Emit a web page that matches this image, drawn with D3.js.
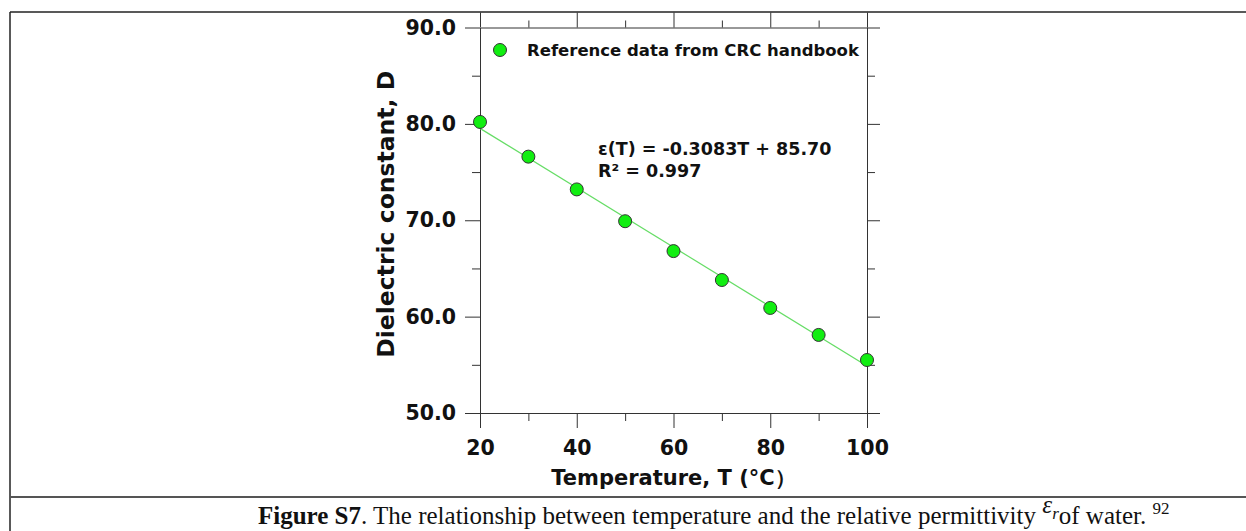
<!DOCTYPE html>
<html>
<head>
<meta charset="utf-8">
<script src="https://cdn.jsdelivr.net/npm/d3@7"></script>
<style>
  body { margin: 0; background: #fff; }
  svg { display: block; }
  .tk text { font-family: "DejaVu Sans", sans-serif; font-weight: bold; font-size: 20.5px; fill: #111; }
</style>
</head>
<body>
<div id="chart"></div>
<script>
// data (CRC handbook values)
const temps = [20, 30, 40, 50, 60, 70, 80, 90, 100];
const dielectric = [80.2, 76.6, 73.2, 69.9, 66.8, 63.8, 60.9, 58.1, 55.5];
const xMajor = [20, 40, 60, 80, 100];
const xMinor = [30, 50, 70, 90];
const yMajor = [50, 60, 70, 80, 90];
const yMinor = [55, 65, 75, 85];
const fitSlope = -0.3083, fitIntercept = 85.70;

const W = 1246, H = 531;
const plot = { left: 480, right: 867, top: 27.5, bottom: 413 };

const svg = d3.select("#chart")
    .append("svg")
    .attr("width", W)
    .attr("height", H);

// frame of the figure cell
svg.append("line").attr("x1", 10).attr("x2", W).attr("y1", 12).attr("y2", 12)
    .attr("stroke", "#222").attr("stroke-width", 1.5);
svg.append("line").attr("x1", 10).attr("x2", 10).attr("y1", 12).attr("y2", H)
    .attr("stroke", "#222").attr("stroke-width", 1.5);
svg.append("line").attr("x1", 10).attr("x2", W).attr("y1", 497).attr("y2", 497)
    .attr("stroke", "#555").attr("stroke-width", 2);

const x = d3.scaleLinear().domain([20, 100]).range([plot.left, plot.right]);
const y = d3.scaleLinear().domain([50, 90]).range([plot.bottom, plot.top]);

function axisGroup(axis, tx, ty) {
    const g = svg.append("g").attr("class", "tk")
        .attr("transform", `translate(${tx},${ty})`)
        .call(axis);
    g.selectAll("line, path").attr("stroke", "#333").attr("stroke-width", 1);
    return g;
}

// bottom axis
axisGroup(d3.axisBottom(x).tickValues(xMajor).tickSize(15).tickPadding(12).tickSizeOuter(0), 0, plot.bottom);
axisGroup(d3.axisBottom(x).tickValues(xMinor).tickSize(8).tickFormat("").tickSizeOuter(0), 0, plot.bottom)
    .select(".domain").remove();
// top axis
axisGroup(d3.axisTop(x).tickValues(xMajor).tickSize(15).tickFormat("").tickSizeOuter(0), 0, plot.top);
axisGroup(d3.axisTop(x).tickValues(xMinor).tickSize(7).tickFormat("").tickSizeOuter(0), 0, plot.top)
    .select(".domain").remove();
// left axis
axisGroup(d3.axisLeft(y).tickValues(yMajor).tickSize(15).tickPadding(9).tickFormat(d3.format(".1f")).tickSizeOuter(0), plot.left, 0);
axisGroup(d3.axisLeft(y).tickValues(yMinor).tickSize(8).tickFormat("").tickSizeOuter(0), plot.left, 0)
    .select(".domain").remove();
// right axis
axisGroup(d3.axisRight(y).tickValues(yMajor).tickSize(13).tickFormat("").tickSizeOuter(0), plot.right, 0);
axisGroup(d3.axisRight(y).tickValues(yMinor).tickSize(8).tickFormat("").tickSizeOuter(0), plot.right, 0)
    .select(".domain").remove();

// axis titles
svg.append("text")
    .attr("x", (plot.left + plot.right) / 2)
    .attr("y", 485)
    .attr("text-anchor", "middle")
    .style("font-family", "DejaVu Sans, sans-serif")
    .style("font-weight", "bold")
    .style("font-size", "21px")
    .attr("fill", "#111")
    .text("Temperature, T (°C）");

svg.append("text")
    .attr("transform", `translate(394,${(plot.top + plot.bottom) / 2 - 6}) rotate(-90)`)
    .attr("text-anchor", "middle")
    .style("font-family", "DejaVu Sans, sans-serif")
    .style("font-weight", "bold")
    .style("font-size", "23.5px")
    .attr("fill", "#111")
    .text("Dielectric constant, D");

// linear fit line
const fitLine = d3.line()
    .x(d => x(d))
    .y(d => y(fitIntercept + fitSlope * d));
svg.append("path")
    .datum([temps[0], temps[temps.length - 1]])
    .attr("d", fitLine)
    .attr("fill", "none")
    .attr("stroke", "#66dd66")
    .attr("stroke-width", 1.2);

// data points
svg.append("g")
    .selectAll("circle")
    .data(temps.map((t, i) => ({ t: t, v: dielectric[i] })))
    .enter()
    .append("circle")
    .attr("cx", d => x(d.t))
    .attr("cy", d => y(d.v))
    .attr("r", 6.5)
    .attr("fill", "#11ee11")
    .attr("stroke", "#333")
    .attr("stroke-width", 1);

// legend
svg.append("circle").attr("cx", 500).attr("cy", 50).attr("r", 6.5)
    .attr("fill", "#11ee11").attr("stroke", "#333").attr("stroke-width", 1);
svg.append("text")
    .attr("x", 527).attr("y", 56)
    .style("font-family", "DejaVu Sans, sans-serif")
    .style("font-weight", "bold")
    .style("font-size", "16.5px")
    .attr("fill", "#111")
    .text("Reference data from CRC handbook");

// fit equation
svg.append("text")
    .attr("x", 598).attr("y", 155)
    .style("font-family", "DejaVu Sans, sans-serif")
    .style("font-weight", "bold")
    .style("font-size", "17.5px")
    .attr("fill", "#111")
    .text(`ε(T) = ${fitSlope}T + ${fitIntercept.toFixed(2)}`);
svg.append("text")
    .attr("x", 598).attr("y", 177)
    .style("font-family", "DejaVu Sans, sans-serif")
    .style("font-weight", "bold")
    .style("font-size", "17.5px")
    .attr("fill", "#111")
    .text("R² = 0.997");

// caption
const cap = svg.append("text")
    .attr("x", 258).attr("y", 524)
    .style("font-family", "Liberation Serif, serif")
    .style("font-size", "25px")
    .attr("fill", "#111");
cap.append("tspan").style("font-weight", "bold").text("Figure S7");
cap.append("tspan").text(". The relationship between temperature and the relative permittivity ");
cap.append("tspan").attr("dy", -11).style("font-style", "italic").text("ε");
cap.append("tspan").attr("dy", 6).style("font-style", "italic").style("font-size", "17px").text("r");
cap.append("tspan").attr("dy", 5).text("of water. ");
cap.append("tspan").attr("dy", -10).style("font-size", "17px").text("92");
</script>
</body>
</html>
